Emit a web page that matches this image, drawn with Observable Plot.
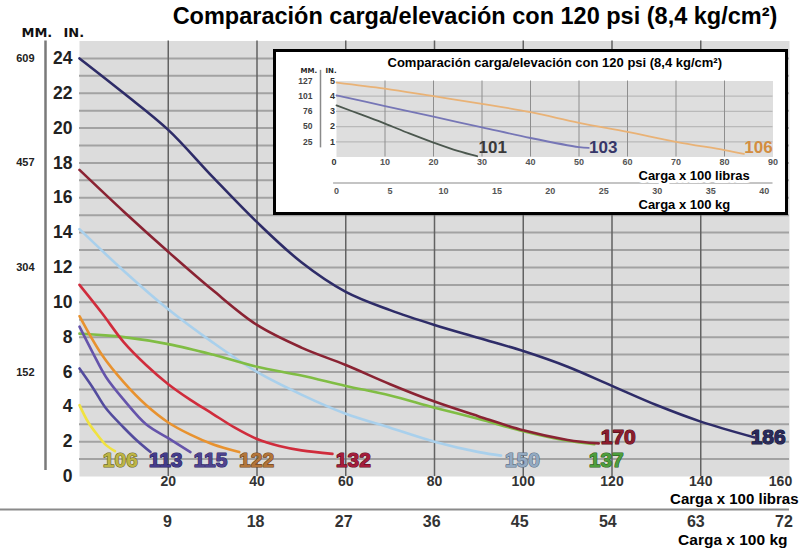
<!DOCTYPE html>
<html>
<head>
<meta charset="utf-8">
<script src="https://cdn.jsdelivr.net/npm/d3@7"></script>
<script src="https://cdn.jsdelivr.net/npm/@observablehq/plot@0.6"></script>
<style>
  body { margin: 0; background: #fff; }
  #wrap { position: relative; width: 800px; height: 549px; overflow: hidden; font-family: "Liberation Sans", Arial, sans-serif; }
  #main { position: absolute; left: 0; top: 0; }
  #title { position: absolute; left: 150px; width: 650px; top: 5px; text-align: center; font-weight: bold; font-size: 23.5px; line-height: 23px; color: #000; white-space: nowrap; }
  #inset { position: absolute; left: 273px; top: 49px; width: 515px; height: 166px; border: 3px solid #000; background: #fff; box-sizing: border-box; }
  #inset svg { display: block; }
</style>
</head>
<body>
<div id="wrap">
  <div id="main"></div>
  <div id="title">Comparación carga/elevación con 120 psi (8,4 kg/cm²)</div>
  <div id="inset"></div>
</div>
<script>
const LB_PER_KG = 2.20462;
const TITLE = "Comparación carga/elevación con 120 psi (8,4 kg/cm²)";

// ---------- Main chart data: load (x100 lb) vs lift (inches) ----------
const load150 = [0, 10, 20, 30, 40, 50, 60, 70, 80, 90, 95];
const lift150 = [14.2, 11.8, 9.6, 7.7, 6.0, 4.7, 3.6, 2.8, 2.0, 1.4, 1.2];
const load137 = [0, 10, 20, 30, 40, 50, 60, 70, 80, 90, 100, 110, 116];
const lift137 = [8.2, 8.0, 7.6, 7.0, 6.3, 5.8, 5.2, 4.65, 3.95, 3.3, 2.6, 2.05, 1.85];
const load170 = [0, 10, 20, 30, 40, 50, 60, 70, 80, 90, 100, 110, 117];
const lift170 = [17.6, 15.2, 12.9, 10.7, 8.7, 7.4, 6.4, 5.3, 4.3, 3.45, 2.65, 2.1, 1.9];
const load186 = [0, 10, 20, 30, 40, 50, 60, 70, 80, 90, 100, 110, 120, 130, 140, 152];
const lift186 = [24, 22, 19.9, 17.2, 14.6, 12.3, 10.6, 9.55, 8.7, 7.95, 7.2, 6.3, 5.2, 4.1, 3.15, 2.25];
const load132 = [0, 5, 10, 15, 20, 25, 30, 35, 40, 45, 50, 57];
const lift132 = [11, 9.4, 7.7, 6.4, 5.3, 4.4, 3.6, 2.8, 2.15, 1.75, 1.5, 1.3];
const load122 = [0, 5, 10, 15, 20, 25, 30, 36];
const lift122 = [9.2, 7.0, 5.4, 4.1, 3.1, 2.4, 1.85, 1.4];
const load115 = [0, 3, 6, 10, 15, 20, 25];
const lift115 = [8.6, 7.1, 5.7, 4.4, 3.0, 2.2, 1.4];
const load113 = [0, 3, 6, 10, 13, 16];
const lift113 = [6.2, 5.1, 3.9, 2.8, 2.05, 1.4];
const load106 = [0, 2, 4, 6, 8];
const lift106 = [4.1, 3.1, 2.4, 1.8, 1.45];

const seriesNames = ["150", "137", "170", "186", "132", "122", "115", "113", "106"];
const seriesLoads = [load150, load137, load170, load186, load132, load122, load115, load113, load106];
const seriesLifts = [lift150, lift137, lift170, lift186, lift132, lift122, lift115, lift113, lift106];

// curve labels (data units)
const labelNames = ["106", "113", "115", "122", "132", "150", "137", "170", "186"];
const labelLoad  = [9.2, 19.4, 29.5, 39.9, 61.7, 99.8, 118.7, 121.4, 155.2];
const labelLift  = [0.92, 0.92, 0.92, 0.92, 0.92, 0.92, 0.92, 2.24, 2.24];

// axis ticks
const inTicks = [0, 2, 4, 6, 8, 10, 12, 14, 16, 18, 20, 22, 24];
const mmAtIn = [24, 18, 12, 6];
const mmLabels = ["609", "457", "304", "152"];
const lbTicks = [20, 40, 60, 80, 100, 120, 140, 160];
const kgTicks = [9, 18, 27, 36, 45, 54, 63, 72];

// ---------- Inset data ----------
const insetLoad106 = [0, 10, 20, 30, 40, 50, 60, 70, 80, 84];
const insetLift106 = [4.9, 4.5, 4.0, 3.5, 2.95, 2.25, 1.65, 1.0, 0.45, 0.2];
const insetLoad103 = [0, 10, 20, 30, 40, 50, 52];
const insetLift103 = [4.05, 3.35, 2.65, 1.95, 1.25, 0.65, 0.6];
const insetLoad101 = [0, 5, 10, 15, 20, 25, 29];
const insetLift101 = [3.4, 2.8, 2.2, 1.55, 0.95, 0.4, 0.05];
const insetNames = ["106", "103", "101"];
const insetLabelLoad = [87, 55, 32.2];
const insetLabelLift = [0.6, 0.6, 0.6];
const insetInTicks = [1, 2, 3, 4, 5];
const insetMmLabels = ["25", "50", "76", "101", "127"];
const insetLbTicks = [10, 20, 30, 40, 50, 60, 70, 80, 90];
const insetKgTicks = [0, 5, 10, 15, 20, 25, 30, 35, 40];

// ---------- styles ----------
const lineColor = {"150": "#a9d0ec", "137": "#80bd44", "170": "#8a2333", "186": "#2e2c68",
  "132": "#d02c3c", "122": "#e8922f", "115": "#6554ab", "113": "#534c9e", "106": "#f0e240"};
const labelFill = {"106": "#bdb444", "113": "#433b8b", "115": "#4f438f", "122": "#b3753a",
  "132": "#a51c3c", "150": "#93aac2", "137": "#4d9e3c", "170": "#8c1c2c", "186": "#29295b"};
const labelStroke = {"106": "#6d6a2a", "113": "#2a2460", "115": "#2f2868", "122": "#6e4520",
  "132": "#5e1022", "150": "#5f7187", "137": "#2c5e22", "170": "#4e0e18", "186": "#141436"};
const insetLineColor = {"106": "#e9b276", "103": "#7676b6", "101": "#4b574e"};
const insetLabelFill = {"106": "#d38d40", "103": "#363668", "101": "#3a3a3a"};

const FONT = "'Liberation Sans', Arial, sans-serif";

// ---------- Build main ----------
const lineMarks = seriesNames.map((name, i) => {
  const rows = seriesLoads[i].map((x, j) => ({x, y: seriesLifts[i][j]}));
  return Plot.line(rows, {x: "x", y: "y", stroke: lineColor[name], strokeWidth: 2.6, curve: "catmull-rom"});
});
const labelRows = labelNames.map((name, i) => ({name, x: labelLoad[i], y: labelLift[i]}));

const main = Plot.plot({
  width: 800, height: 549,
  marginLeft: 79, marginRight: 11, marginTop: 40.5, marginBottom: 73,
  x: {domain: [0, 160]},
  y: {domain: [0, 25]},
  color: {type: "identity"},
  style: {fontFamily: FONT, background: "transparent", color: "#222"},
  marks: [
    Plot.frame({fill: "#dcdcdc", stroke: "none"}),
    Plot.gridY(d3.range(1, 25), {stroke: "#a2a2a2", strokeWidth: 2, strokeOpacity: 1}),
    Plot.gridX(lbTicks.slice(0, 7), {stroke: "#626262", strokeWidth: 1.5, strokeOpacity: 1}),
    ...lineMarks,
    Plot.text(labelRows, {x: "x", y: "y", text: "name", fill: d => labelFill[d.name], stroke: d => labelStroke[d.name],
      strokeWidth: 1.2, paintOrder: "stroke", fontSize: 21, fontWeight: "bold"}),
    // left inch axis
    Plot.axisY({ticks: inTicks, tickFormat: d => String(d), tickSize: 0, tickPadding: 7, fontSize: 17.5, fontWeight: "bold", label: null, color: "#222"}),
    // mm axis
    Plot.axisY({ticks: mmAtIn, tickFormat: d => mmLabels[mmAtIn.indexOf(d)], tickSize: 0, tickPadding: 45,
      fontSize: 11, fontWeight: "bold", label: null, color: "#222"}),
    Plot.ruleX([0], {y1: 0.35, y2: 25, dx: -34, stroke: "#7a7a7a", strokeWidth: 2.5}),
    Plot.text(["MM."], {frameAnchor: "top-left", lineAnchor: "middle", dx: -58, dy: -8.5, fontSize: 13, fontWeight: "bold",
      fontFamily: "DejaVu Sans", fill: "#111"}),
    Plot.text(["IN."], {frameAnchor: "top-left", lineAnchor: "middle", dx: -16, dy: -8.5, fontSize: 13, fontWeight: "bold",
      fontFamily: "DejaVu Sans", fill: "#111"}),
    // bottom axes
    Plot.axisX({ticks: lbTicks.slice(0, 7), tickFormat: d => String(d), tickSize: 0, tickPadding: 0, fontSize: 14, fontWeight: "bold", label: null, color: "#333"}),
    Plot.axisX({ticks: lbTicks.slice(7), tickFormat: d => String(d), tickSize: 0, tickPadding: 0, dx: -9, fontSize: 14, fontWeight: "bold", label: null, color: "#333"}),
    Plot.ruleY([0], {x1: -18, x2: 160, dy: 33, stroke: "#8a8a8a", strokeWidth: 2}),
    Plot.axisX({ticks: kgTicks.map(k => k * LB_PER_KG), tickFormat: d => String(Math.round(d / LB_PER_KG)),
      tickSize: 0, tickPadding: 39, fontSize: 16, fontWeight: "bold", label: null, color: "#333"}),
    Plot.text(["Carga x 100 libras"], {frameAnchor: "bottom-right", lineAnchor: "middle", textAnchor: "end", dx: 9, dy: 22.5,
      fontSize: 15, fontWeight: "bold", fill: "#000"}),
    Plot.text(["Carga x 100 kg"], {frameAnchor: "bottom-right", lineAnchor: "middle", textAnchor: "end", dx: -2, dy: 64,
      fontSize: 15.5, fontWeight: "bold", fill: "#000"})
  ]
});
document.getElementById("main").appendChild(main);

// ---------- Build inset ----------
const insetLoads = [insetLoad106, insetLoad103, insetLoad101];
const insetLifts = [insetLift106, insetLift103, insetLift101];
const insetLines = insetNames.map((name, i) => {
  const rows = insetLoads[i].map((x, j) => ({x, y: insetLifts[i][j]}));
  return Plot.line(rows, {x: "x", y: "y", stroke: insetLineColor[name], strokeWidth: 1.8, curve: "catmull-rom"});
});
const insetLabelRows = insetNames.map((name, i) => ({name, x: insetLabelLoad[i], y: insetLabelLift[i]}));

const inset = Plot.plot({
  width: 509, height: 160,
  marginLeft: 60, marginRight: 12.5, marginTop: 28.5, marginBottom: 55.5,
  x: {domain: [0, 90]},
  y: {domain: [0, 5]},
  color: {type: "identity"},
  style: {fontFamily: FONT, background: "#fff", color: "#222"},
  marks: [
    Plot.frame({fill: "#dedede", stroke: "none"}),
    Plot.gridY([1, 2, 3, 4], {stroke: "#b9b9b9", strokeWidth: 1.2, strokeOpacity: 1}),
    Plot.gridX(insetLbTicks.slice(0, 8), {stroke: "#8e8e8e", strokeWidth: 1, strokeOpacity: 1}),
    ...insetLines,
    Plot.text(insetLabelRows, {x: "x", y: "y", text: "name", fill: d => insetLabelFill[d.name],
      fontSize: 17, fontWeight: "bold"}),
    Plot.text([TITLE], {frameAnchor: "top", lineAnchor: "middle", dy: -18.5, fontSize: 13, fontWeight: "bold", fill: "#000"}),
    Plot.axisY({ticks: insetInTicks, tickFormat: d => String(d), tickSize: 0, tickPadding: 1.5, fontSize: 9, fontWeight: "bold", label: null, color: "#333"}),
    Plot.axisY({ticks: insetInTicks, tickFormat: d => insetMmLabels[insetInTicks.indexOf(d)], tickSize: 0, tickPadding: 24,
      fontSize: 8.5, fontWeight: "bold", label: null, color: "#444"}),
    Plot.text(["0"], {frameAnchor: "bottom-left", lineAnchor: "middle", dx: -5, dy: 5.5, fontSize: 9, fontWeight: "bold", fill: "#333"}),
    Plot.ruleX([0], {y1: 0.6, y2: 5.7, dx: -16, stroke: "#8a8a8a", strokeWidth: 1.5}),
    Plot.text(["MM."], {frameAnchor: "top-left", lineAnchor: "middle", dx: -36, dy: -10.5, fontSize: 7, fontWeight: "bold",
      fontFamily: "DejaVu Sans", fill: "#222"}),
    Plot.text(["IN."], {frameAnchor: "top-left", lineAnchor: "middle", dx: -11, dy: -10.5, fontSize: 7, fontWeight: "bold",
      fontFamily: "DejaVu Sans", fill: "#222"}),
    Plot.axisX({ticks: insetLbTicks, tickFormat: d => String(d), tickSize: 0, tickPadding: 1.5, fontSize: 9, fontWeight: "bold", label: null, color: "#555"}),
    Plot.ruleY([0], {x1: -0.6, x2: 90, dy: 26, stroke: "#c4c4c4", strokeWidth: 2}),
    Plot.axisX({ticks: insetKgTicks.map(k => k * LB_PER_KG), tickFormat: d => String(Math.round(d / LB_PER_KG)),
      tickSize: 0, tickPadding: 31, fontSize: 9, fontWeight: "bold", label: null, color: "#555"}),
    Plot.text(["Carga x 100 libras"], {frameAnchor: "bottom-left", lineAnchor: "middle", textAnchor: "start", dx: 302, dy: 18.5,
      fontSize: 13, fontWeight: "bold", fill: "#000", stroke: "#fff", strokeWidth: 6, paintOrder: "stroke"}),
    Plot.text(["Carga x 100 kg"], {frameAnchor: "bottom-left", lineAnchor: "middle", textAnchor: "start", dx: 302, dy: 48,
      fontSize: 13, fontWeight: "bold", fill: "#000", stroke: "#fff", strokeWidth: 4, paintOrder: "stroke"})
  ]
});
document.getElementById("inset").appendChild(inset);
</script>
</body>
</html>
